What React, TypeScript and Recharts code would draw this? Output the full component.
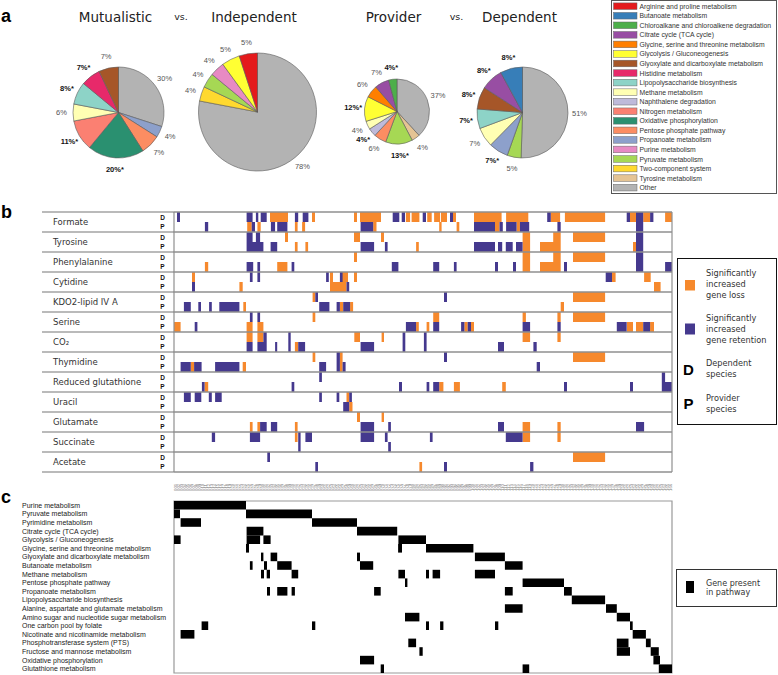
import React from "react";
import { Cell, ComposedChart, Pie, PieChart, ReferenceArea, ReferenceLine, XAxis, YAxis } from "recharts";

// ---- panel a: pathway legend + pies ----
const legendNames = [
  "Arginine and proline metabolism",
  "Butanoate metabolism",
  "Chloroalkane and chloroalkene degradation",
  "Citrate cycle (TCA cycle)",
  "Glycine, serine and threonine metabolism",
  "Glycolysis / Gluconeogenesis",
  "Glyoxylate and dicarboxylate metabolism",
  "Histidine metabolism",
  "Lipopolysaccharide biosynthesis",
  "Methane metabolism",
  "Naphthalene degradation",
  "Nitrogen metabolism",
  "Oxidative phosphorylation",
  "Pentose phosphate pathway",
  "Propanoate metabolism",
  "Purine metabolism",
  "Pyruvate metabolism",
  "Two-component system",
  "Tyrosine metabolism",
  "Other",
];
const legendColors = [
  "#e41a1c", "#377eb8", "#4daf4a", "#984ea3", "#ff7f00", "#ffff33", "#a65628",
  "#e7296a", "#8dd3c7", "#ffffb3", "#bebada", "#fb8072", "#2a9070", "#fc8d62",
  "#8da0cb", "#e78ac3", "#a6d854", "#ffd92f", "#e5c494", "#b3b3b3",
];
const colorOf = (name: string) => legendColors[legendNames.indexOf(name)];

type Slice = { name: string; pct: number; sig?: boolean };

const mutualistic: Slice[] = [
  { name: "Other", pct: 30 },
  { name: "Propanoate metabolism", pct: 4 },
  { name: "Pentose phosphate pathway", pct: 7 },
  { name: "Oxidative phosphorylation", pct: 20, sig: true },
  { name: "Nitrogen metabolism", pct: 11, sig: true },
  { name: "Methane metabolism", pct: 6 },
  { name: "Lipopolysaccharide biosynthesis", pct: 8, sig: true },
  { name: "Histidine metabolism", pct: 7, sig: true },
  { name: "Glyoxylate and dicarboxylate metabolism", pct: 7 },
];
const independent: Slice[] = [
  { name: "Other", pct: 78 },
  { name: "Two-component system", pct: 4 },
  { name: "Pyruvate metabolism", pct: 4 },
  { name: "Purine metabolism", pct: 4 },
  { name: "Glycolysis / Gluconeogenesis", pct: 5 },
  { name: "Arginine and proline metabolism", pct: 5 },
];
const provider: Slice[] = [
  { name: "Other", pct: 37 },
  { name: "Tyrosine metabolism", pct: 4 },
  { name: "Pyruvate metabolism", pct: 13, sig: true },
  { name: "Pentose phosphate pathway", pct: 6 },
  { name: "Naphthalene degradation", pct: 4, sig: true },
  { name: "Methane metabolism", pct: 4 },
  { name: "Glycolysis / Gluconeogenesis", pct: 12, sig: true },
  { name: "Glycine, serine and threonine metabolism", pct: 6 },
  { name: "Citrate cycle (TCA cycle)", pct: 7 },
  { name: "Chloroalkane and chloroalkene degradation", pct: 4, sig: true },
];
const dependent: Slice[] = [
  { name: "Other", pct: 51 },
  { name: "Pyruvate metabolism", pct: 5 },
  { name: "Propanoate metabolism", pct: 7, sig: true },
  { name: "Methane metabolism", pct: 7 },
  { name: "Lipopolysaccharide biosynthesis", pct: 7, sig: true },
  { name: "Glyoxylate and dicarboxylate metabolism", pct: 8, sig: true },
  { name: "Citrate cycle (TCA cycle)", pct: 8, sig: true },
  { name: "Butanoate metabolism", pct: 8, sig: true },
];

// ---- panel b: gene loss / retention per metabolite (gene column ranges) ----
const metabolites = [
  "Formate", "Tyrosine", "Phenylalanine", "Cytidine", "KDO2-lipid IV A", "Serine", "CO₂",
  "Thymidine", "Reduced glutathione", "Uracil", "Glutamate", "Succinate", "Acetate",
];
const lossD = [
  [[32, 38], [46, 47], [60, 61], [62, 69], [77.3, 78.7], [79.2, 81.8], [84.4, 85.9], [86.7, 88.7], [89, 91], [93, 94], [100, 109.2], [110.7, 118.1], [125.6, 128.7], [130.3, 143.7], [152, 154], [156.4, 158.7], [163.7, 166]],
  [[37, 38], [60, 62], [69, 70], [116.2, 118.7], [126.4, 128.9], [133, 143.7]],
  [[60, 61], [116.2, 118.7], [126.4, 128.9], [133, 143.7]],
  [[6, 7], [52, 53], [56, 58], [60, 61], [146, 147.2], [156.7, 158.9]],
  [[46.2, 47.1], [133, 143.7]],
  [[46.2, 47.1], [86.4, 88.4], [116.2, 117.3], [127.8, 128.9], [133, 143.7]],
  [[24.2, 26.2], [27.8, 29.8], [60.1, 62], [69.2, 70], [116.2, 118.7], [127.8, 128.9]],
  [[46.2, 47.1], [55.3, 56.2], [133, 143.7]],
  [],
  [[57.5, 58.4]],
  [[61, 62], [69.2, 70]],
  [[40.3, 41.2], [116.2, 118.7], [127.8, 128.9]],
  [[133, 143.7]],
];
const retD = [
  [[1, 2], [24.2, 26.2], [27.3, 28.1], [28.9, 30.9], [40.3, 41.4], [42.9, 44.8], [72.9, 75.1], [75.9, 77], [82.9, 84], [92, 93], [124.4, 125.6], [150.9, 152], [154, 156.4], [158.7, 159.8]],
  [[24.2, 26.2], [27.3, 28.7], [154, 156.4]],
  [[154, 156.4]],
  [[25.3, 26.2], [27.8, 28.7], [50.7, 51.6], [55.3, 56.2], [143.9, 146]],
  [[47.1, 48], [90, 91]],
  [[25.3, 26.2], [27.8, 28.7]],
  [[29.8, 30.9], [38.1, 38.9], [76.2, 77.1], [83.3, 84.2]],
  [[54.2, 55.3], [90, 91]],
  [[48.4, 49.3], [162.6, 163.7]],
  [[3.3, 5.6], [6.9, 9.1], [11.6, 12.6], [13.7, 15.9], [48.4, 49.3], [54.2, 55.1], [58.4, 59.3]],
  [],
  [[12.6, 13.7], [25.3, 28.7], [41.4, 42.2], [43.8, 46], [62.2, 66.7], [70.3, 71.2], [85.3, 86.2], [110.6, 116.2]],
  [[31.1, 32]],
];
const lossP = [
  [[24.4, 25.9], [27.8, 28.9], [40.3, 41.2], [42.7, 43.7], [66.4, 67.5], [88.4, 89.2], [94.2, 95.1], [107, 108.5], [114.2, 115.3]],
  [[40.3, 41.2], [43.8, 44.7], [80.7, 81.6], [116.2, 118.7], [122, 128.9], [153, 154]],
  [[10.3, 11.4], [34.4, 37.8], [116.2, 118.7], [122, 128.9]],
  [[21.8, 22.9], [52, 57.5], [160, 162.2]],
  [[23.1, 24], [55.3, 56.4], [58.7, 59.7], [128.9, 130]],
  [[0, 2.2], [24.2, 26.2], [27.8, 29.8], [80.7, 81.6], [84.2, 85.1], [96.8, 97.9], [99, 100], [151, 153], [154, 156.4], [158.7, 160]],
  [[40.3, 41.4]],
  [[5.6, 6.7], [22.9, 24], [55.3, 56.2]],
  [[10.2, 11.4], [88.4, 89.8], [93.3, 95.3], [109.4, 110.6]],
  [[58.4, 59.5]],
  [[25.3, 26.2], [27.8, 28.7], [40.3, 41.2], [116.2, 118.7], [127.8, 128.9]],
  [],
  [[81.8, 82.7]],
];
const retP = [
  [[10.3, 11.4], [25.9, 27], [32.3, 33.7], [34.4, 37.8], [62.2, 66.4], [100, 107], [108.5, 109.6], [110.7, 114.2], [115.3, 118.4], [127.8, 128.9], [154, 156.4]],
  [[24.2, 29.8], [32.2, 34.4], [62.2, 66.7], [70.3, 71.2], [100, 107], [108, 109.4], [110.6, 112.9], [114, 116.2], [154, 156.4]],
  [[24.2, 26.4], [27.8, 28.7], [39.2, 40.1], [72.6, 74.8], [86.4, 88.4], [93.3, 94.2], [107, 108], [113, 114], [130, 131], [154, 156.4], [163.7, 166]],
  [[6, 7], [57.5, 58.4]],
  [[3.3, 5.6], [8.1, 9], [11.7, 12.6], [15.1, 21.8], [48.4, 51.8], [54.2, 55.3], [56.4, 58.7]],
  [[6.9, 7.8], [77.3, 80.7], [86.4, 88.4], [95.7, 96.8], [97.9, 99], [116.2, 118.7], [127.8, 128.9], [147.6, 150.9], [156.4, 158.7]],
  [[24.2, 26.2], [27.8, 30.9], [33.7, 34.4], [38.1, 38.9], [41.4, 43.7], [62.2, 66.7], [76.2, 77.1], [83.3, 84.2], [108, 110], [119.8, 120.9]],
  [[2.2, 5.6], [6.7, 9.2], [13.7, 21.8], [48.4, 50.7], [54.2, 55.3], [56.2, 57.2], [120.9, 122]],
  [[9.3, 10.2], [39.2, 40.1], [75, 76], [84.2, 85.1], [86.4, 88.4], [130, 131], [152, 153], [162.6, 166]],
  [[56.4, 58.4]],
  [[28.7, 30.9], [32.3, 34.4], [62.2, 66.7], [71.4, 72.3], [108, 110], [154, 156.7]],
  [[41.4, 42.2], [71.4, 72.3]],
  [[47.1, 48], [90, 91], [118.7, 119.8]],
];

// ---- panel c: genes present in each pathway (gene column ranges) ----
const pathways = [
  "Purine metabolism", "Pyruvate metabolism", "Pyrimidine metabolism", "Citrate cycle (TCA cycle)",
  "Glycolysis / Gluconeogenesis", "Glycine, serine and threonine metabolism",
  "Glyoxylate and dicarboxylate metabolism", "Butanoate metabolism", "Methane metabolism",
  "Pentose phosphate pathway", "Propanoate metabolism", "Lipopolysaccharide biosynthesis",
  "Alanine, aspartate and glutamate metabolism", "Amino sugar and nucleotide sugar metabolism",
  "One carbon pool by folate", "Nicotinate and nicotinamide metabolism",
  "Phosphotransferase system (PTS)", "Fructose and mannose metabolism",
  "Oxidative phosphorylation", "Glutathione metabolism",
];
const pathwayGenes = [
  [[0, 24]],
  [[0, 2], [24, 46]],
  [[2.2, 9], [46, 61]],
  [[24.2, 29.8], [61, 74.4]],
  [[0, 2.2], [24.2, 28.7], [29.8, 32.2], [74.8, 84]],
  [[24, 25], [74.7, 76], [84, 99.8]],
  [[29, 29.8], [32.2, 34.4], [61, 62], [100.3, 110.3]],
  [[25.3, 26.2], [30, 31], [34.4, 39.2], [62, 66.4], [110.3, 116.2]],
  [[29, 30], [30.9, 32], [39.2, 41.4], [74.8, 77], [84, 85], [86.2, 88.7], [100.3, 107]],
  [[77, 77.8], [116.2, 130]],
  [[31, 32], [34.4, 37.8], [39.2, 40.3], [66.7, 68.9], [110.3, 112.9], [130, 132.6]],
  [[132.6, 143.7]],
  [[110.3, 116.2], [144, 147.6]],
  [[77, 81.8], [147.6, 152]],
  [[9.2, 11.4], [46, 47.1], [84, 85], [88.7, 89.8], [107, 108.1], [152, 152.9]],
  [[2.2, 6.8], [152.9, 157.3]],
  [[78.1, 80.7], [147.6, 151.5], [157.3, 158.9]],
  [[81.8, 82.9], [147.6, 152], [158.9, 161.6]],
  [[62, 66.7], [159.8, 162]],
  [[68.9, 70], [116.2, 118.4], [161.6, 166]],
];
const GENE_COUNT = 166;

const ORANGE = "#f6892d";
const PURPLE = "#45398e";
const GRID = "#8f8f8f";
const SANS = "'DejaVu Sans', Verdana, sans-serif";
const ARIAL = "Arial, 'Liberation Sans', sans-serif";

const pieLabel = (data: Slice[]) => (props: any) => {
  const { cx, cy, midAngle, outerRadius, index } = props;
  const d = data[index];
  const r = outerRadius + 11.5;
  const a = (-midAngle * Math.PI) / 180;
  return (
    <text
      x={cx + r * Math.cos(a)}
      y={cy + r * Math.sin(a)}
      textAnchor="middle"
      dominantBaseline="central"
      fontSize={7.5}
      fontFamily={ARIAL}
      fontWeight={d.sig ? 700 : 400}
      fill={d.sig ? "#111" : "#555"}
    >
      {d.pct}%{d.sig ? "*" : ""}
    </text>
  );
};

const PieOf = ({ data, cx, cy, r }: { data: Slice[]; cx: number; cy: number; r: number }) => (
  <Pie
    data={data}
    dataKey="pct"
    nameKey="name"
    cx={cx}
    cy={cy}
    outerRadius={r}
    startAngle={90}
    endAngle={-270}
    stroke="#5a5a5a"
    strokeWidth={0.6}
    label={pieLabel(data)}
    labelLine={false}
    isAnimationActive={false}
  >
    {data.map((d) => (
      <Cell key={d.name} fill={colorOf(d.name)} />
    ))}
  </Pie>
);

const PiePanel = () => (
  <PieChart width={610} height={205} margin={{ top: 0, right: 0, bottom: 0, left: 0 }}>
    {PieOf({ data: mutualistic, cx: 118.5, cy: 112.5, r: 45.5 })}
    {PieOf({ data: independent, cx: 257.5, cy: 112, r: 59 })}
    {PieOf({ data: provider, cx: 397, cy: 111.5, r: 32.5 })}
    {PieOf({ data: dependent, cx: 522.5, cy: 112.5, r: 45.5 })}
  </PieChart>
);

const RowTick = (props: any) => {
  const { y, payload } = props;
  const i = Math.round((payload.value - 1) / 2);
  return (
    <g>
      {i === 0 && <line x1={42} x2={174} y1={y - 10} y2={y - 10} stroke="#777" strokeWidth={1.2} />}
      <line x1={42} x2={174} y1={y + 10} y2={y + 10} stroke="#777" strokeWidth={1.2} />
      <text x={53} y={y} dominantBaseline="central" fontSize={8.5} fontFamily={SANS} fill="#333">
        {metabolites[i]}
      </text>
      <text x={162.5} y={y - 4.5} textAnchor="middle" dominantBaseline="central" fontSize={6.5} fontWeight={700} fontFamily={ARIAL} fill="#111">
        D
      </text>
      <text x={162.5} y={y + 4.5} textAnchor="middle" dominantBaseline="central" fontSize={6.5} fontWeight={700} fontFamily={ARIAL} fill="#111">
        P
      </text>
    </g>
  );
};

const HeatPanel = () => {
  const groups: [number[][][], number, string][] = [
    [lossD, 0, ORANGE],
    [retD, 0, PURPLE],
    [lossP, 1, ORANGE],
    [retP, 1, PURPLE],
  ];
  const areas: React.ReactNode[] = [];
  metabolites.forEach((_, i) => {
    groups.forEach(([arr, off, col], g) => {
      arr[i].forEach(([a, b], k) => {
        areas.push(
          <ReferenceArea
            key={`h${i}-${g}-${k}`}
            x1={a}
            x2={b}
            y1={2 * i + off}
            y2={2 * i + off + 1}
            fill={col}
            fillOpacity={1}
            stroke="none"
            ifOverflow="visible"
          />
        );
      });
    });
  });
  const rowCenters = metabolites.map((_, i) => 2 * i + 1);
  const rowEdges = [0, ...metabolites.map((_, i) => 2 * i + 2)];
  return (
    <ComposedChart width={673} height={262} margin={{ top: 1, right: 1, bottom: 1, left: 0 }}>
      <XAxis type="number" dataKey="x" domain={[0, GENE_COUNT]} hide allowDataOverflow />
      <YAxis
        type="number"
        domain={[0, 26]}
        reversed
        width={174}
        ticks={rowCenters}
        interval={0}
        tick={RowTick}
        axisLine={false}
        tickLine={false}
        allowDataOverflow
      />
      {areas}
      {rowEdges.map((v) => (
        <ReferenceLine key={`r${v}`} y={v} stroke={GRID} strokeWidth={1.3} ifOverflow="visible" />
      ))}
      <ReferenceLine x={0} stroke={GRID} strokeWidth={1.2} ifOverflow="visible" />
      <ReferenceLine x={GENE_COUNT} stroke={GRID} strokeWidth={1.2} ifOverflow="visible" />
    </ComposedChart>
  );
};

const GeneTick = (props: any) => {
  const { x, payload } = props;
  return (
    <text
      x={x}
      y={21}
      transform={`rotate(-90, ${x}, 21)`}
      textAnchor="start"
      dominantBaseline="central"
      fontSize={4.3}
      fontFamily={ARIAL}
      fill="#777"
    >
      {`${Math.floor(payload.value) + 1}`.padStart(3, "0")}
    </text>
  );
};

const PathTick = (props: any) => {
  const { y, payload } = props;
  return (
    <text x={22} y={y} dominantBaseline="central" fontSize={7} fontFamily={ARIAL} fill="#222">
      {pathways[Math.floor(payload.value)]}
    </text>
  );
};

const PathwayPanel = () => {
  const geneTicks = Array.from({ length: GENE_COUNT }, (_, i) => i + 0.5);
  const rowTicks = pathways.map((_, i) => i + 0.5);
  return (
    <ComposedChart width={673} height={205} margin={{ top: 6, right: 1, bottom: 2, left: 0 }}>
      <XAxis
        type="number"
        dataKey="x"
        orientation="top"
        domain={[0, GENE_COUNT]}
        ticks={geneTicks}
        interval={0}
        height={25}
        tick={GeneTick}
        axisLine={false}
        tickLine={false}
        allowDataOverflow
      />
      <YAxis
        type="number"
        domain={[0, pathways.length]}
        reversed
        width={174}
        ticks={rowTicks}
        interval={0}
        tick={PathTick}
        axisLine={false}
        tickLine={false}
        allowDataOverflow
      />
      <ReferenceArea x1={0} x2={GENE_COUNT} y1={0} y2={pathways.length} fill="#fff" fillOpacity={0} stroke="#999" strokeWidth={1.2} ifOverflow="visible" />
      {pathwayGenes.map((segs, i) =>
        segs.map(([a, b], k) => (
          <ReferenceArea key={`c${i}-${k}`} x1={a} x2={b} y1={i} y2={i + 1} fill="#000" fillOpacity={1} stroke="none" ifOverflow="visible" />
        ))
      )}
    </ComposedChart>
  );
};

const Overlay = () => (
  <svg width={778} height={675} style={{ position: "absolute", left: 0, top: 0, pointerEvents: "none" }}>
    <text x={1} y={22} fontSize={18} fontWeight={700} fontFamily={ARIAL} fill="#000">a</text>
    <g fontFamily={SANS} fill="#222" textAnchor="middle">
      <text x={115.5} y={22} fontSize={13.5}>Mutualistic</text>
      <text x={181} y={19.5} fontSize={9.5}>vs.</text>
      <text x={254} y={22} fontSize={13.5}>Independent</text>
      <text x={393.5} y={22} fontSize={13.5}>Provider</text>
      <text x={456.5} y={19.5} fontSize={9.5}>vs.</text>
      <text x={519.5} y={22} fontSize={13.5}>Dependent</text>
    </g>
    <rect x={611.5} y={0.5} width={165} height={193} fill="#fff" stroke="#555" strokeWidth={1} />
    {legendNames.map((n, i) => (
      <g key={n}>
        <rect x={613.5} y={6.2 + 9.55 * i - 3.3} width={23.5} height={6.6} fill={legendColors[i]} stroke="#666" strokeWidth={0.5} />
        <text x={639.5} y={6.2 + 9.55 * i} dominantBaseline="central" fontSize={6.8} fontFamily={ARIAL} fill="#333">
          {n}
        </text>
      </g>
    ))}

    <text x={1} y={218} fontSize={18} fontWeight={700} fontFamily={ARIAL} fill="#000">b</text>
    <rect x={677.5} y={258.5} width={99} height={166} fill="#fff" stroke="#111" strokeWidth={1} />
    <rect x={685} y={280} width={10} height={10.5} fill={ORANGE} />
    <rect x={685} y={323.5} width={10} height={11} fill={PURPLE} />
    <g fontFamily={SANS} fontSize={8.2} fill="#333" dominantBaseline="central">
      <text x={706} y={273}>Significantly</text>
      <text x={706} y={284}>increased</text>
      <text x={706} y={295}>gene loss</text>
      <text x={706} y={318}>Significantly</text>
      <text x={706} y={329}>increased</text>
      <text x={706} y={340}>gene retention</text>
      <text x={706} y={363}>Dependent</text>
      <text x={706} y={374}>species</text>
      <text x={706} y={397.5}>Provider</text>
      <text x={706} y={408.5}>species</text>
    </g>
    <text x={683} y={375} fontSize={15} fontWeight={700} fontFamily={ARIAL} fill="#000">D</text>
    <text x={683.5} y={409} fontSize={15} fontWeight={700} fontFamily={ARIAL} fill="#000">P</text>

    <text x={1} y={503} fontSize={18} fontWeight={700} fontFamily={ARIAL} fill="#000">c</text>
    <rect x={676.5} y={569.5} width={100} height={37} fill="#fff" stroke="#333" strokeWidth={1} />
    <rect x={686} y={581} width={8} height={12} fill="#000" />
    <g fontFamily={SANS} fontSize={8} fill="#333" dominantBaseline="central">
      <text x={706} y={583}>Gene present</text>
      <text x={706} y={592.5}>in pathway</text>
    </g>
  </svg>
);

export default function App() {
  return (
    <div style={{ position: "absolute", left: 0, top: 0, width: 778, height: 675, background: "#fff", overflow: "hidden" }}>
      <div style={{ position: "absolute", left: 0, top: 0 }}>
        <PiePanel />
      </div>
      <div style={{ position: "absolute", left: 0, top: 211 }}>
        <HeatPanel />
      </div>
      <div style={{ position: "absolute", left: 0, top: 470 }}>
        <PathwayPanel />
      </div>
      <Overlay />
    </div>
  );
}
